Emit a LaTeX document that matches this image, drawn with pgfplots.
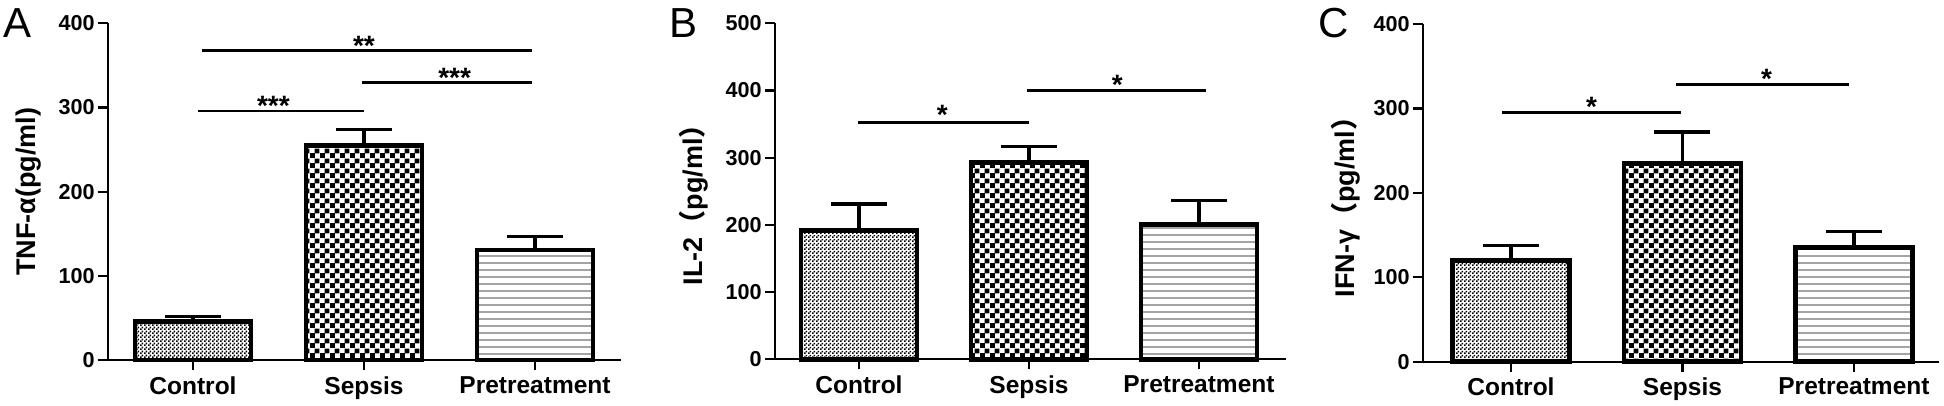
\documentclass[border=0pt]{standalone}
\usepackage{fontspec}
\setmainfont{Liberation Sans}
\newfontfamily\cjk{Noto Sans CJK SC}
\usepackage{graphicx}
\usepackage{pgfplots}
\pgfplotsset{compat=1.18}
\usetikzlibrary{patterns.meta}

\tikzdeclarepattern{
  name=finecheck, type=uncolored,
  bounding box={(0,0) and (2pt,2pt)},
  tile size={(2pt,2pt)},
  code={\fill (0pt,0pt) rectangle (1.05pt,1.05pt); \fill (1pt,1pt) rectangle (2pt,2pt);}
}
\tikzdeclarepattern{
  name=coarsecheck, type=uncolored,
  bounding box={(0,0) and (4.85pt,4.85pt)},
  tile size={(4.85pt,4.85pt)},
  code={\fill (0pt,0pt) rectangle (2.45pt,2.45pt); \fill (2.425pt,2.425pt) rectangle (4.85pt,4.85pt);}
}
\tikzdeclarepattern{
  name=hlines, type=uncolored,
  bounding box={(0,0) and (40pt,3.5pt)},
  tile size={(40pt,3.5pt)},
  code={\fill (-0.5pt,1.4pt) rectangle (40.5pt,2.1pt);}
}

\pgfplotsset{
  panel/.style={
    scale only axis,
    axis x line*=bottom, axis y line*=left,
    axis line style={line width=1.15pt, black, -},
    tick style={line width=1.1pt, black},
    major tick length=5pt, tick align=outside,
    ymin=0, ytick distance=100, minor tick num=0,
    xtick={0,1,2}, xticklabels={Control,Sepsis,Pretreatment},
    x tick label style={font=\fontsize{12.25}{14}\selectfont\bfseries, inner sep=3pt},
    y tick label style={font=\fontsize{10.8}{12}\selectfont\bfseries, inner sep=1.5pt},
    /pgf/number format/assume math mode=true,
    ylabel style={font=\fontsize{13.5}{15}\selectfont\bfseries, anchor=center},
    clip=false,
  },
  mybar/.style={
    ybar, bar width=0.68, bar shift=0pt, draw=black, line width=2.25pt,
    /pgfplots/error bars/y dir=plus,
    /pgfplots/error bars/y explicit,
    /pgfplots/error bars/error bar style={line width=1.65pt, black, solid},
    /pgfplots/error bars/error mark options={rotate=90, mark size=14pt, line width=1.65pt, black, solid},
  },
  sigline/.style={black, line width=1.35pt, no marks},
}
\tikzset{sig/.style={anchor=base, inner sep=0pt, font=\fontsize{14}{14}\selectfont\bfseries}}

\begin{document}
\begin{tikzpicture}
\useasboundingbox (0,0) rectangle (972pt,203pt);
\node[anchor=base west, inner sep=0pt, font=\fontsize{21}{21}\selectfont] at (1.5pt,184pt) {A};
\node[anchor=base west, inner sep=0pt, font=\fontsize{21}{21}\selectfont] at (334.5pt,184pt) {B};
\node[anchor=base west, inner sep=0pt, font=\fontsize{21}{21}\selectfont] at (659pt,184pt) {C};

% Panel A
\begin{axis}[panel, at={(54pt,23pt)}, anchor=south west,
  width=256.5pt, height=168.35pt, xmin=-0.497, xmax=2.503, ymax=400,
  ylabel={TNF-α(pg/ml)}, ylabel style={at={(axis description cs:-0.155,0.5)}}]
\addplot[mybar, pattern=finecheck] coordinates {(0,45.5) +- (0,6)};
\addplot[mybar, pattern=coarsecheck] coordinates {(1,254.6) +- (0,19.4)};
\addplot[mybar, pattern=hlines, pattern color=black!55] coordinates {(2,130.7) +- (0,15.8)};
\addplot[sigline] coordinates {(0.03,295.8) (1.0,295.8)};
\addplot[sigline] coordinates {(0.99,329.9) (1.98,329.9)};
\addplot[sigline] coordinates {(0.05,367.4) (1.98,367.4)};
\node[sig] at (axis cs:0.47,291) {***};
\node[sig] at (axis cs:1.53,324) {***};
\node[sig] at (axis cs:1.0,362) {**};
\end{axis}

% Panel B
\begin{axis}[panel, at={(387.5pt,23.35pt)}, anchor=south west,
  width=255.5pt, height=168pt, xmin=-0.494, xmax=2.512, ymax=500,
  ylabel={IL-2{\cjk （}pg/ml{\cjk ）}}, ylabel style={at={(axis description cs:-0.160,0.48)}}]
\addplot[mybar, pattern=finecheck] coordinates {(0,191.4) +- (0,39.6)};
\addplot[mybar, pattern=coarsecheck] coordinates {(1,292.7) +- (0,23.7)};
\addplot[mybar, pattern=hlines, pattern color=black!55] coordinates {(2,200.9) +- (0,35.1)};
\addplot[sigline] coordinates {(-0.005,352) (1.0,352)};
\addplot[sigline] coordinates {(0.99,400.3) (2.04,400.3)};
\node[sig] at (axis cs:0.49,348.7) {*};
\node[sig] at (axis cs:1.52,393.3) {*};
\end{axis}

% Panel C
\begin{axis}[panel, at={(711.5pt,22.15pt)}, anchor=south west,
  width=258pt, height=168.85pt, xmin=-0.513, xmax=2.496, ymax=400,
  ylabel={IFN-γ{\cjk （}pg/ml{\cjk ）}}, ylabel style={at={(axis description cs:-0.149,0.478)}}]
\addplot[mybar, pattern=finecheck] coordinates {(0,120) +- (0,17.5)};
\addplot[mybar, pattern=coarsecheck] coordinates {(1,235) +- (0,37)};
\addplot[mybar, pattern=hlines, pattern color=black!55] coordinates {(2,135) +- (0,19)};
\addplot[sigline] coordinates {(-0.05,295.5) (0.99,295.5)};
\addplot[sigline] coordinates {(0.96,328.7) (1.97,328.7)};
\node[sig] at (axis cs:0.47,291) {*};
\node[sig] at (axis cs:1.49,323.8) {*};
\end{axis}
\end{tikzpicture}
\end{document}
